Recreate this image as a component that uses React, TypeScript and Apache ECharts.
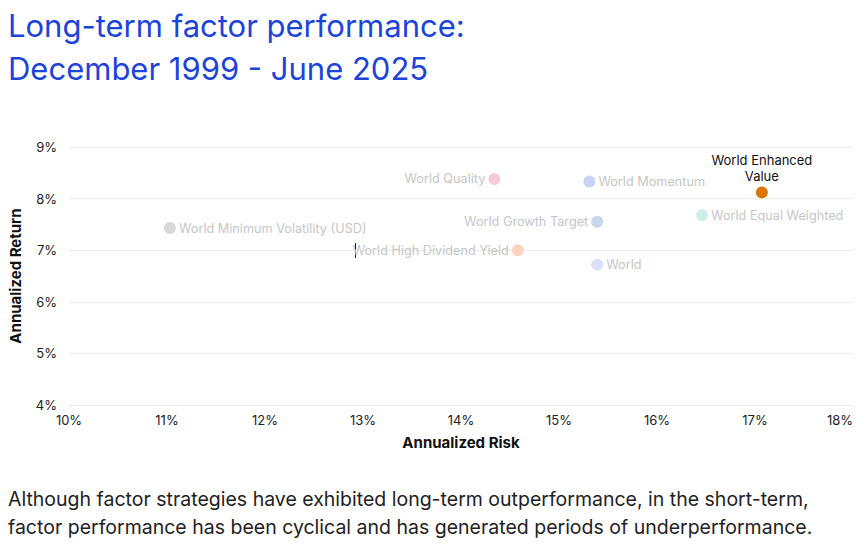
import React, { useEffect, useRef } from "react";
import * as echarts from "echarts";

const names = [
  "World Minimum Volatility (USD)",
  "World High Dividend Yield",
  "World Quality",
  "World Momentum",
  "World Growth Target",
  "World",
  "World Equal Weighted",
  "World Enhanced\nValue",
];
const risk = [11.03, 14.58, 14.34, 15.31, 15.39, 15.39, 16.46, 17.07];
const ret = [7.43, 7.0, 8.38, 8.33, 7.55, 6.72, 7.68, 8.12];
const colors = ["#d9d9d9", "#fcd3bf", "#f6c9d8", "#c9d3f4", "#c8d8ea", "#dbe2f8", "#cdefe8", "#d97706"];
const labelPos = ["right", "left", "left", "right", "left", "right", "right", "top"];
const xTicks = [10, 18, 1];
const yTicks = [4, 9, 1];

export default function App() {
  const ref = useRef<HTMLDivElement>(null);
  useEffect(() => {
    const chart = echarts.init(ref.current!, null, { renderer: "svg" });
    const font = "Inter, 'Noto Sans', sans-serif";
    const data = names.map((n, i) => {
      const highlight = i === names.length - 1;
      return {
        name: n,
        value: [risk[i], ret[i]],
        itemStyle: { color: colors[i], opacity: 1 },
        label: {
          show: true,
          formatter: n,
          position: labelPos[i],
          distance: highlight ? 2 : 3,
          color: highlight ? "#111" : "#c6c6c6",
          fontSize: highlight ? 13 : 12.7,
          fontFamily: font,
          lineHeight: 16,
          align: highlight ? "center" : undefined,
        },
      };
    });
    chart.setOption({
      animation: false,
      grid: { left: 67, right: 10, top: 147, bottom: 139, containLabel: false },
      xAxis: {
        type: "value",
        min: xTicks[0],
        max: xTicks[1],
        interval: xTicks[2],
        name: "Annualized Risk",
        nameLocation: "middle",
        nameGap: 30,
        nameTextStyle: { fontFamily: font, fontSize: 15, fontWeight: "bold", color: "#111" },
        axisLine: { show: false },
        axisTick: { show: false },
        splitLine: { show: false },
        axisLabel: {
          formatter: "{value}%",
          fontFamily: font,
          fontSize: 13,
          color: "#222",
          margin: 8,
          alignMaxLabel: "right",
        },
      },
      yAxis: {
        type: "value",
        min: yTicks[0],
        max: yTicks[1],
        interval: yTicks[2],
        name: "Annualized Return",
        nameLocation: "middle",
        nameGap: 46,
        nameTextStyle: { fontFamily: font, fontSize: 15, fontWeight: "bold", color: "#111" },
        axisLine: { show: false },
        axisTick: { show: false },
        splitLine: { lineStyle: { color: "#ececec", width: 1 } },
        axisLabel: {
          formatter: "{value}%",
          fontFamily: font,
          fontSize: 13,
          color: "#222",
          margin: 12,
        },
      },
      series: [
        {
          type: "scatter",
          symbolSize: 12,
          itemStyle: { opacity: 1 },
          data,
        },
      ],
      graphic: [
        {
          type: "text",
          left: 8,
          top: 4,
          style: {
            text: "Long-term factor performance:\nDecember 1999 - June 2025",
            fontFamily: font,
            fontSize: 31,
            lineHeight: 43,
            fill: "#1d44d8",
          },
        },
        {
          type: "text",
          left: 8,
          top: 485,
          style: {
            text:
              "Although factor strategies have exhibited long-term outperformance, in the short-term,\nfactor performance has been cyclical and has generated periods of underperformance.",
            fontFamily: font,
            fontSize: 19.5,
            lineHeight: 28,
            fill: "#222",
          },
        },
        {
          type: "line",
          shape: { x1: 355.5, y1: 243, x2: 355.5, y2: 258 },
          style: { stroke: "#111", lineWidth: 1 },
        },
      ],
    });
    return () => chart.dispose();
  }, []);
  return (
    <div
      ref={ref}
      style={{ position: "fixed", left: 0, top: 0, width: 863, height: 544, background: "#fff" }}
    />
  );
}
